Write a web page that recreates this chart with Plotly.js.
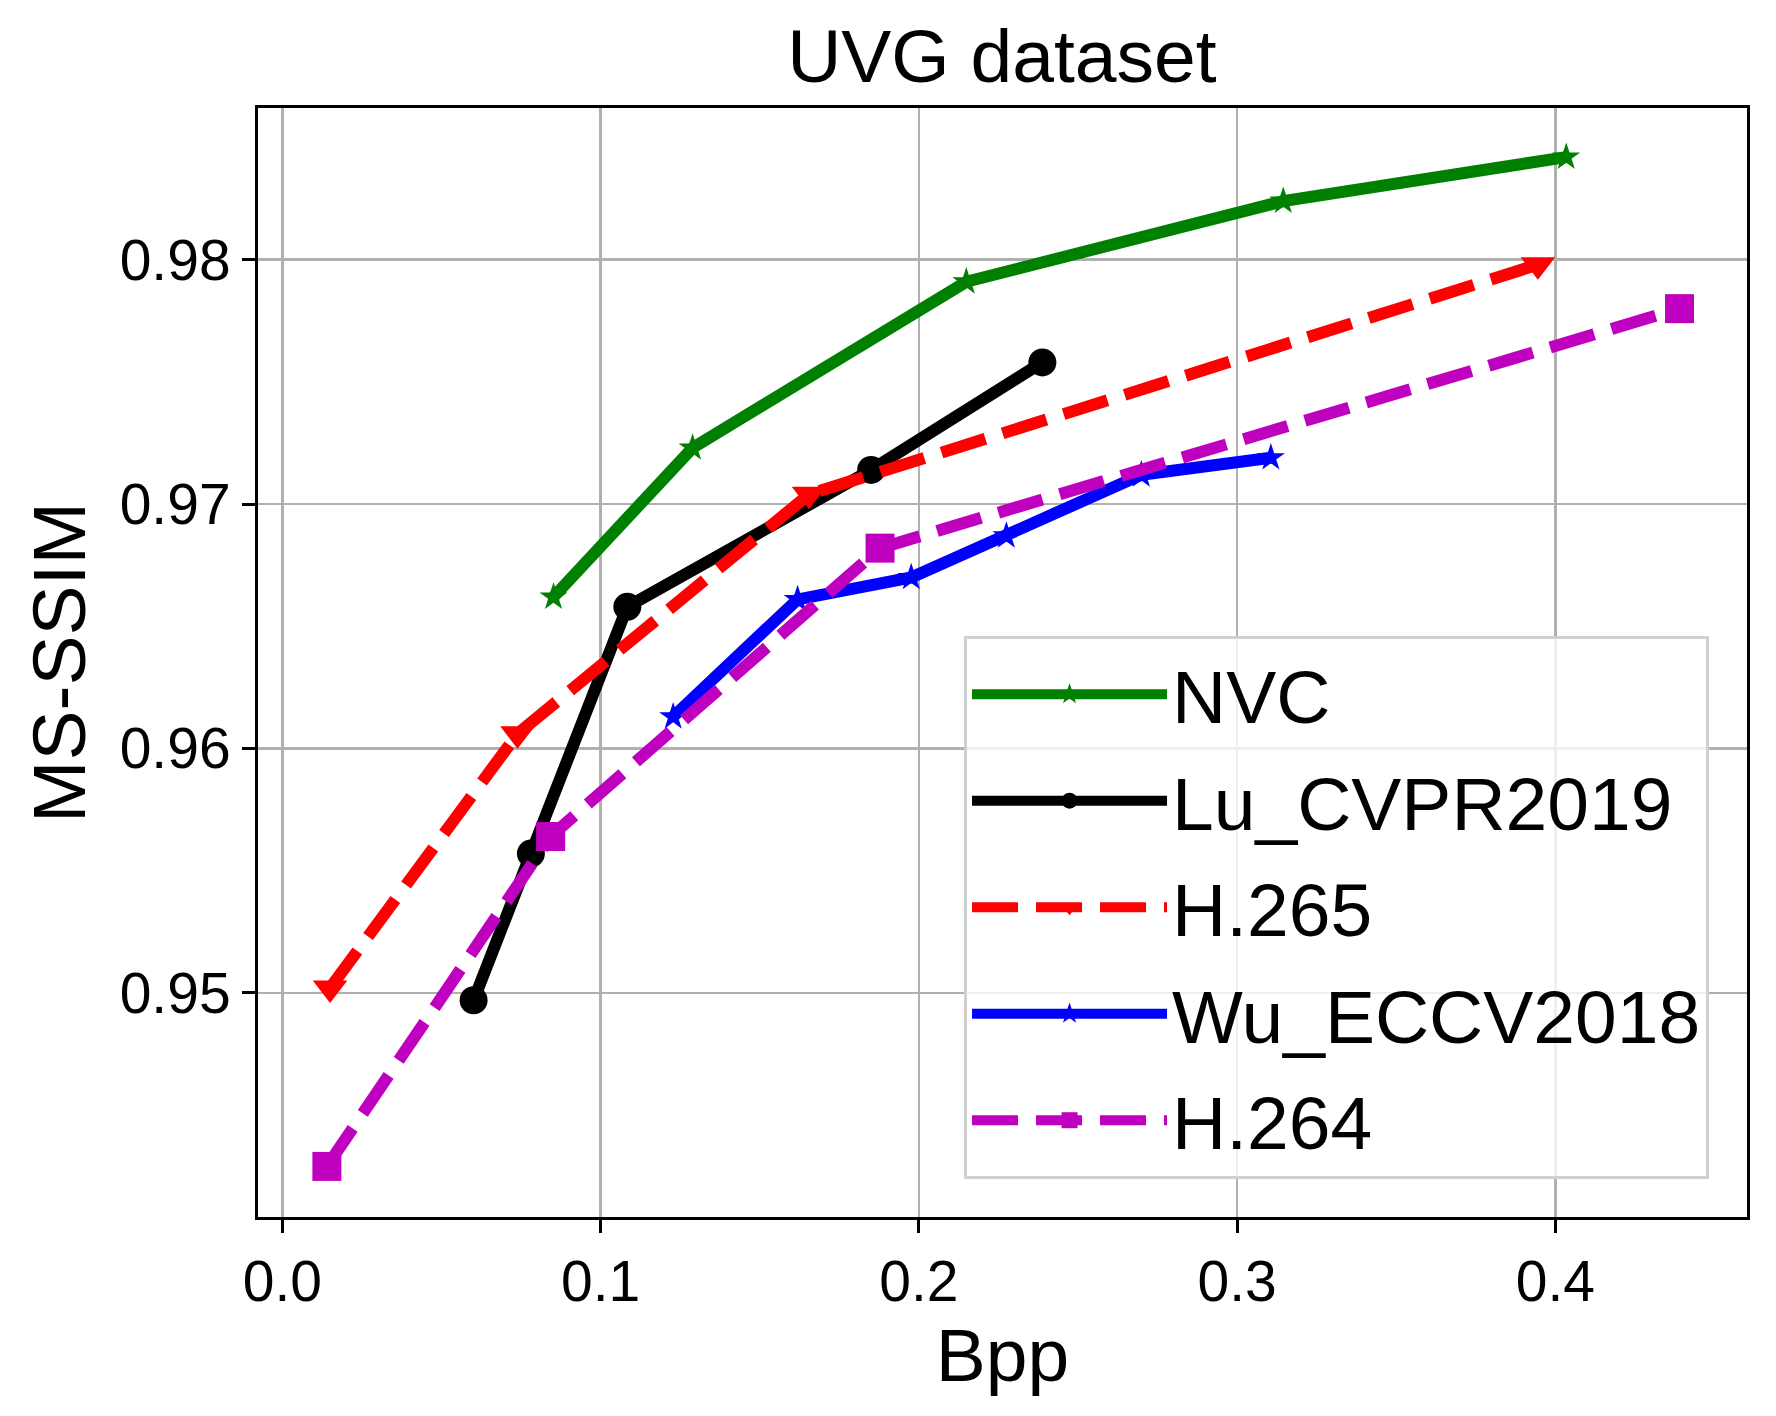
<!DOCTYPE html>
<html>
<head>
<meta charset="utf-8">
<script src="https://cdn.plot.ly/plotly-3.0.1.min.js"></script>
<style>
  html, body { margin: 0; padding: 0; background: #ffffff; }
  #chart { width: 1776px; height: 1416px; }
</style>
</head>
<body>
<div id="chart"></div>
<script>
// ---- data ----
const seriesNames = ["NVC", "Lu_CVPR2019", "H.265", "Wu_ECCV2018", "H.264"];

const bppNVC  = [0.0852, 0.1289, 0.2149, 0.3145, 0.4034];
const ssimNVC = [0.9662, 0.9723, 0.9791, 0.9824, 0.9842];

const bppLu  = [0.0601, 0.0781, 0.1084, 0.1850, 0.2388];
const ssimLu = [0.9497, 0.9557, 0.9658, 0.9714, 0.9758];

const bppH265  = [0.0150, 0.0739, 0.1655, 0.3945];
const ssimH265 = [0.9502, 0.9606, 0.9704, 0.9798];

const bppWu  = [0.1228, 0.1619, 0.1976, 0.2275, 0.2699, 0.3106];
const ssimWu = [0.9613, 0.9661, 0.9670, 0.9687, 0.9712, 0.9719];

const bppH264  = [0.0140, 0.0843, 0.1878, 0.4390];
const ssimH264 = [0.9429, 0.9564, 0.9682, 0.9780];

const xTickVals = [0.0, 0.1, 0.2, 0.3, 0.4];
const xTickText = ["0.0", "0.1", "0.2", "0.3", "0.4"];
const yTickVals = [0.95, 0.96, 0.97, 0.98];
const yTickText = ["0.95", "0.96", "0.97", "0.98"];

// ---- styling ----
const FONT = '"Liberation Sans", Arial, Helvetica, sans-serif';
const LW = 12;
const DASH = "46px,18px";

function trace(name, x, y, color, dash, symbol, size) {
  return {
    type: "scatter", mode: "lines+markers", name: name, x: x, y: y,
    legendgroup: name,
    line: { color: color, width: LW, dash: dash },
    marker: { color: color, symbol: symbol, size: size, line: { width: 0 } },
    hoverinfo: "skip"
  };
}

const data = [
  trace(seriesNames[0], bppNVC, ssimNVC, "#008000", "solid", "star", 21),
  trace(seriesNames[1], bppLu, ssimLu, "#000000", "solid", "circle", 28),
  trace(seriesNames[2], bppH265, ssimH265, "#ff0000", DASH, "triangle-down", 30),
  trace(seriesNames[3], bppWu, ssimWu, "#0000ff", "solid", "star", 21),
  trace(seriesNames[4], bppH264, ssimH264, "#bf00bf", DASH, "square", 29)
];

const axisCommon = {
  showgrid: true, gridcolor: "#b0b0b0", gridwidth: 2.7,
  showline: true, linecolor: "#000000", linewidth: 3, mirror: true,
  ticks: "outside", ticklen: 13, tickwidth: 3, tickcolor: "#000000",
  zeroline: false, tickfont: { family: FONT, size: 57, color: "#000000" }
};

const layout = {
  width: 1776, height: 1416,
  paper_bgcolor: "#ffffff", plot_bgcolor: "#ffffff",
  margin: { l: 258, r: 29, t: 108, b: 199, pad: 0 },
  font: { family: FONT, color: "#000000" },
  title: {
    text: "UVG dataset",
    font: { family: FONT, size: 75, color: "#000000" },
    x: 0.5641, xanchor: "center", xref: "container",
    y: 0.9604, yanchor: "middle", yref: "container"
  },
  xaxis: Object.assign({}, axisCommon, {
    range: [-0.00764, 0.4602],
    tickmode: "array", tickvals: xTickVals, ticktext: xTickText,
    title: { text: "Bpp", font: { family: FONT, size: 75, color: "#000000" }, standoff: 12 }
  }),
  yaxis: Object.assign({}, axisCommon, {
    range: [0.94083, 0.98621],
    tickmode: "array", tickvals: yTickVals, ticktext: yTickText,
    title: { text: "MS-SSIM", font: { family: FONT, size: 75, color: "#000000" }, standoff: 10 }
  }),
  legend: {
    x: 0.9745, xanchor: "right", xref: "paper",
    y: 0.0343, yanchor: "bottom", yref: "paper",
    bgcolor: "rgba(255,255,255,0.8)", bordercolor: "#d0d0d0", borderwidth: 3,
    font: { family: FONT, size: 75, color: "#000000" },
    itemwidth: 195, tracegroupgap: 6, traceorder: "grouped"
  },
  showlegend: true
};

Plotly.newPlot("chart", data, layout, { staticPlot: true, displayModeBar: false });
</script>
</body>
</html>
